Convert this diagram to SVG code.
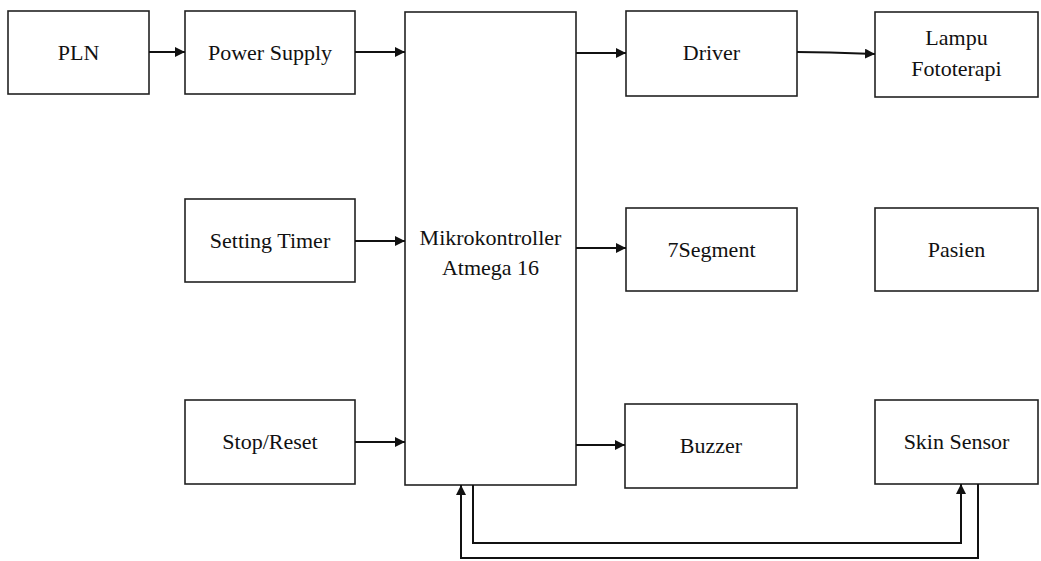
<svg xmlns="http://www.w3.org/2000/svg" width="1041" height="561" viewBox="0 0 1041 561">
<style>
.box{fill:#fff;stroke:#222;stroke-width:1.6}
text{font-family:'Liberation Serif','Times New Roman',Times,serif;font-size:22px;fill:#111;text-anchor:middle}
.wire{fill:none;stroke:#111;stroke-width:2}
</style>
<defs>
<marker id="arr" viewBox="0 0 10 10" refX="10" refY="5" markerWidth="5" markerHeight="5" orient="auto" markerUnits="strokeWidth">
<path d="M0,0 L10,5 L0,10 z" fill="#111"/>
</marker>
</defs>
<rect width="1041" height="561" fill="#fff"/>
<g id="pln"><rect class="box" x="8" y="11" width="141" height="83"/><text x="78.5" y="60">PLN</text></g>
<g id="power-supply"><rect class="box" x="185" y="11" width="170" height="83"/><text x="270" y="60">Power Supply</text></g>
<g id="mikrokontroller"><rect class="box" x="405" y="12" width="171" height="473"/><text x="490.5" y="245">Mikrokontroller</text><text x="490.5" y="275">Atmega 16</text></g>
<g id="setting-timer"><rect class="box" x="185" y="199" width="170" height="83"/><text x="270" y="248">Setting Timer</text></g>
<g id="stop-reset"><rect class="box" x="185" y="400" width="170" height="84"/><text x="270" y="449">Stop/Reset</text></g>
<g id="driver"><rect class="box" x="626" y="11" width="171" height="85"/><text x="711.5" y="60">Driver</text></g>
<g id="7segment"><rect class="box" x="626" y="208" width="171" height="83"/><text x="711.5" y="257">7Segment</text></g>
<g id="buzzer"><rect class="box" x="625" y="404" width="172" height="84"/><text x="711" y="453">Buzzer</text></g>
<g id="lampu"><rect class="box" x="875" y="12" width="163" height="85"/><text x="956.5" y="45">Lampu</text><text x="956.5" y="76">Fototerapi</text></g>
<g id="pasien"><rect class="box" x="875" y="208" width="163" height="83"/><text x="956.5" y="257">Pasien</text></g>
<g id="skin-sensor"><rect class="box" x="875" y="400" width="163" height="84"/><text x="956.5" y="449">Skin Sensor</text></g>
<g id="connectors">
<line class="wire" x1="149" y1="52" x2="185" y2="52" marker-end="url(#arr)"/>
<line class="wire" x1="355" y1="52" x2="405" y2="52" marker-end="url(#arr)"/>
<line class="wire" x1="355" y1="241" x2="405" y2="241" marker-end="url(#arr)"/>
<line class="wire" x1="355" y1="442" x2="405" y2="442" marker-end="url(#arr)"/>
<line class="wire" x1="576" y1="53" x2="626" y2="53" marker-end="url(#arr)"/>
<line class="wire" x1="576" y1="248" x2="626" y2="248" marker-end="url(#arr)"/>
<line class="wire" x1="576" y1="445" x2="625" y2="445" marker-end="url(#arr)"/>
<path class="wire" d="M797,52 L830,52.5 L875,54" marker-end="url(#arr)"/>
<path class="wire" d="M473,485 V543 H961 V484" marker-end="url(#arr)"/>
<path class="wire" d="M978,484 V558 H461 V485" marker-end="url(#arr)"/>
</g>
</svg>
